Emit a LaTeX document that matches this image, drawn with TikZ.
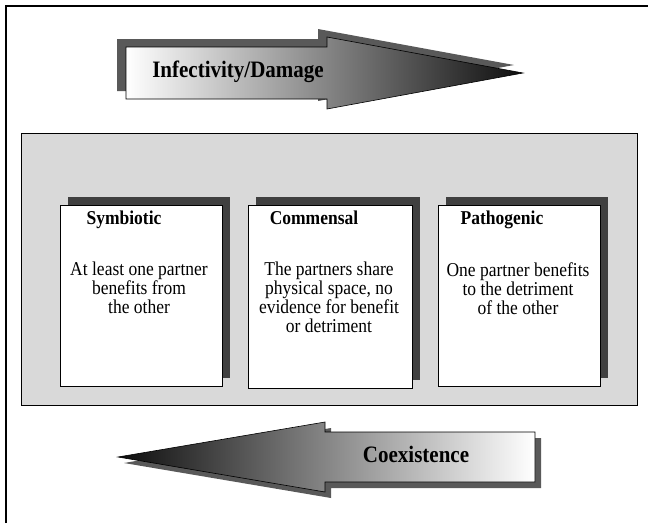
\documentclass[tikz,border=0pt]{standalone}
\usepackage{graphicx}
\usepackage{fontspec}
\setmainfont{Liberation Serif}
\newcommand{\talltext}[1]{\scalebox{1}[1.12]{#1}}
\begin{document}
\begin{tikzpicture}[x=1pt,y=-1pt,
  panelbox/.style={draw=black, line width=0.8pt, fill=black!15},
  card/.style={draw=black, line width=0.8pt, fill=white},
  cardshadow/.style={fill=black!75},
  titletext/.style={font=\fontsize{17.5}{20}\selectfont\bfseries, inner sep=0pt, anchor=base},
  bodytext/.style={font=\fontsize{17.5}{19}\selectfont, align=center, inner sep=0pt, anchor=north},
  arrowtext/.style={font=\fontsize{21}{23}\selectfont\bfseries, inner sep=0pt, anchor=base},
  frameline/.style={line width=1.8pt, black}]
\useasboundingbox (0,0) rectangle (648,523);
% outer frame (top and left)
\draw[frameline] (6,523) -- (6,6) -- (648,6);

% ---- top arrow: Infectivity/Damage ----
\fill[black!65, shift={(-9,-8)}] (126,47) -- (327,47) -- (327,37) -- (523,73) -- (327,109) -- (327,99) -- (126,99) -- cycle;
\shade[left color=white, middle color=black!50, right color=black!95, draw=black, line width=0.6pt]
  (126,47) -- (327,47) -- (327,37) -- (523,73) -- (327,109) -- (327,99) -- (126,99) -- cycle;
\node[arrowtext] (infect) at (238,77) {\talltext{Infectivity/Damage}};

% ---- panel ----
\draw[panelbox] (21,133) rectangle (637,405);

% cards with shadows
\fill[cardshadow] (68,197) rectangle (230,378);
\draw[card] (60,205) rectangle (222,386);
\fill[cardshadow] (256,197) rectangle (420,380);
\draw[card] (248,205) rectangle (412,388);
\fill[cardshadow] (446,197) rectangle (608,378);
\draw[card] (438,205) rectangle (600,386);

\node[titletext] (symt) at (124,224) {\talltext{Symbiotic}};
\node[titletext] (comt) at (314,224) {\talltext{Commensal}};
\node[titletext] (patt) at (502,224) {\talltext{Pathogenic}};

\node[bodytext] (symb) at (139,262) {\talltext{At least one partner}\\\talltext{benefits from}\\\talltext{the other}};
\node[bodytext] (comb) at (329,262) {\talltext{The partners share}\\\talltext{physical space, no}\\\talltext{evidence for benefit}\\\talltext{or detriment}};
\node[bodytext] (patb) at (518,262) {\talltext{One partner benefits}\\\talltext{to the detriment}\\\talltext{of the other}};

% ---- bottom arrow: Coexistence ----
\fill[black!65, shift={(6,6)}] (535,432) -- (325,432) -- (325,422) -- (118,457) -- (325,492) -- (325,482) -- (535,482) -- cycle;
\shade[left color=black!95, middle color=black!55, right color=white, draw=black, line width=0.6pt]
  (535,432) -- (325,432) -- (325,422) -- (118,457) -- (325,492) -- (325,482) -- (535,482) -- cycle;
\node[arrowtext] (coex) at (416,462) {\talltext{Coexistence}};
\end{tikzpicture}
\end{document}
